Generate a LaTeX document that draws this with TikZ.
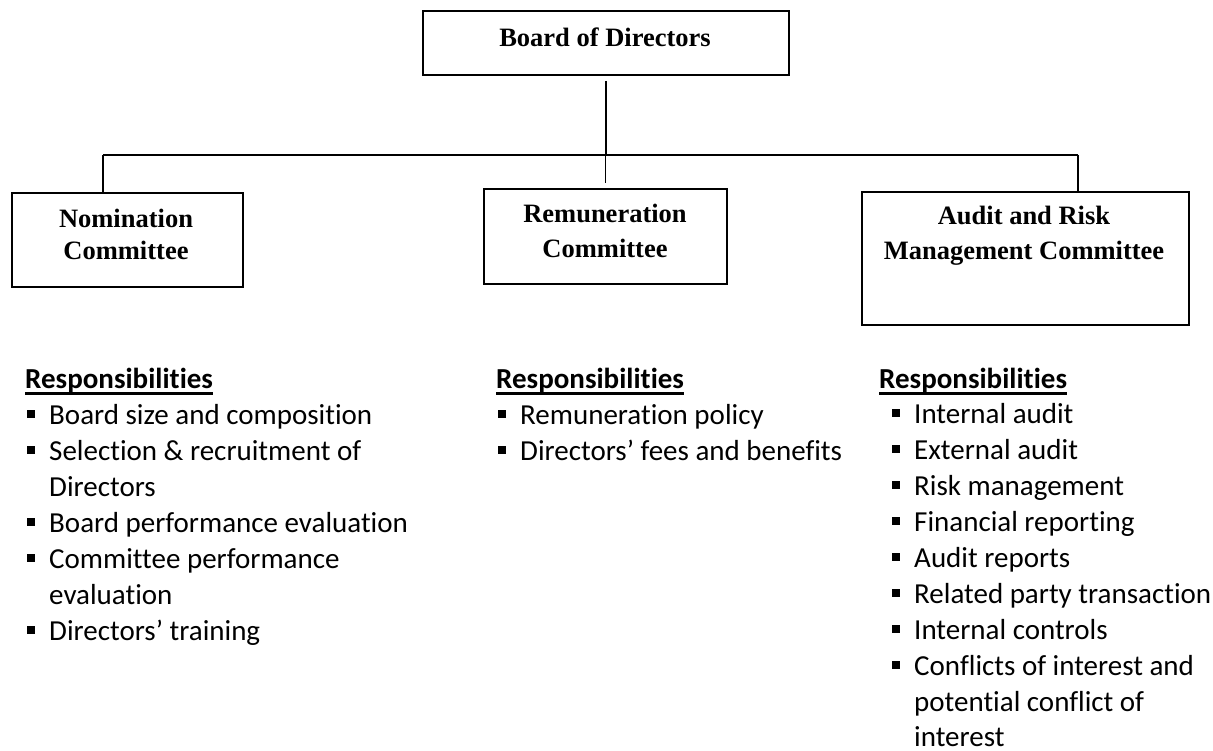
\documentclass[tikz,border=0pt]{standalone}
\usepackage{fontspec}
\setmainfont{Liberation Serif}
\newfontfamily\calfont[Ligatures={NoCommon,NoContextual}]{Carlito}
\tikzset{
  x=1pt, y=-1pt,
  orgbox/.style={draw, line width=1.8pt, inner sep=0pt, anchor=north west},
  conn/.style={line width=1.5pt},
  btitle/.style={font=\fontsize{26.5}{31}\selectfont\bfseries, inner sep=0pt, anchor=base},
  head/.style={font=\calfont\fontsize{29}{36}\selectfont\bfseries, inner sep=0pt, anchor=base west},
  itemtext/.style={font=\calfont\fontsize{29}{36}\selectfont, inner sep=0pt, anchor=base west},
  bulitem/.style={itemtext, execute at begin node={\llap{\rule[6.5pt]{8pt}{8pt}\hspace{14pt}}}},
  uline/.style={line width=2.2pt}
}
\begin{document}
\begin{tikzpicture}
\useasboundingbox (0,0) rectangle (1213,751);
% boxes
\node[orgbox, minimum width=366pt, minimum height=64pt] (bod) at (422,10) {};
\node[orgbox, minimum width=231pt, minimum height=94pt] (nom) at (11,192) {};
\node[orgbox, minimum width=243pt, minimum height=95pt] (rem) at (483,188) {};
\node[orgbox, minimum width=327pt, minimum height=133pt] (arm) at (861,191) {};
% box titles
\node[btitle] (bodt) at (605,47) {Board of Directors};
\node[btitle] (nomt1) at (126,228) {Nomination};
\node[btitle] (nomt2) at (126,260) {Committee};
\node[btitle] (remt1) at (605,223) {Remuneration};
\node[btitle] (remt2) at (605,258) {Committee};
\node[btitle] (armt1) at (1024,225) {Audit and Risk};
\node[btitle] (armt2) at (1024,260) {Management Committee};
% connectors
\coordinate (busL) at (103,155);
\coordinate (busR) at (1078,155);
\draw[conn] (busL) -- (busR);
\draw[conn] ([yshift=-5pt]bod.south) -- (bod.south |- busL);
\draw[conn] (busL) -- (busL |- nom.north);
\draw[conn] (rem.north |- busL) -- ([yshift=5pt]rem.north);
\draw[conn] (busR) -- (busR |- arm.north);
% left column
\node[head] (h1) at (25,388) {Responsibilities};
\draw[uline] ([yshift=-5.5pt]h1.base west) -- ([yshift=-5.5pt]h1.base east);
\node[bulitem] (l1) at (49,424) {Board size and composition};
\node[bulitem] (l2) at (49,460) {Selection \& recruitment of};
\node[itemtext] (l2b) at (49,496) {Directors};
\node[bulitem] (l3) at (49,532) {Board performance evaluation};
\node[bulitem] (l4) at (49,568) {Committee performance};
\node[itemtext] (l4b) at (49,604) {evaluation};
\node[bulitem] (l5) at (49,640) {Directors’ training};
% middle column
\node[head] (h2) at (496,388) {Responsibilities};
\draw[uline] ([yshift=-5.5pt]h2.base west) -- ([yshift=-5.5pt]h2.base east);
\node[bulitem] (m1) at (520,424) {Remuneration policy};
\node[bulitem] (m2) at (520,460) {Directors’ fees and benefits};
% right column
\node[head] (h3) at (879,388) {Responsibilities};
\draw[uline] ([yshift=-5.5pt]h3.base west) -- ([yshift=-5.5pt]h3.base east);
\node[bulitem] (r1) at (914,423.5) {Internal audit};
\node[bulitem] (r2) at (914,459.5) {External audit};
\node[bulitem] (r3) at (914,495.5) {Risk management};
\node[bulitem] (r4) at (914,531.5) {Financial reporting};
\node[bulitem] (r5) at (914,567.5) {Audit reports};
\node[bulitem] (r6) at (914,603.5) {Related party transaction};
\node[bulitem] (r7) at (914,639.5) {Internal controls};
\node[bulitem] (r8) at (914,675.5) {Conflicts of interest and};
\node[itemtext] (r8b) at (914,711.5) {potential conflict of};
\node[itemtext] (r8c) at (914,746.5) {interest};
\end{tikzpicture}
\end{document}
